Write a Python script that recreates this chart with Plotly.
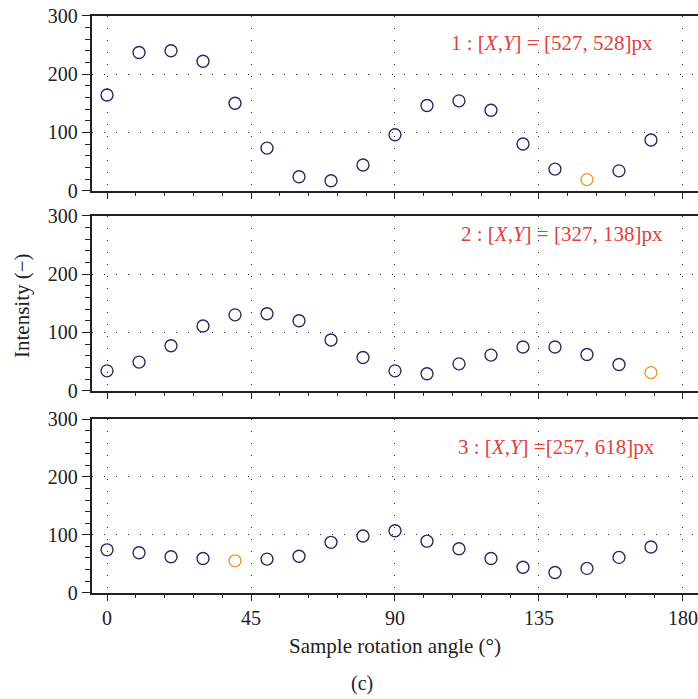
import plotly.graph_objects as go

angles = [0, 10, 20, 30, 40, 50, 60, 70, 80, 90, 100, 110, 120, 130, 140, 150, 160, 170]
intensity_1 = [164, 237, 240, 222, 150, 73, 24, 17, 44, 96, 146, 154, 138, 80, 37, 19, 34, 87]
intensity_2 = [34, 49, 77, 111, 130, 132, 120, 87, 57, 34, 29, 46, 61, 75, 75, 62, 45, 31]
intensity_3 = [74, 69, 62, 59, 55, 58, 63, 87, 98, 107, 89, 76, 59, 44, 35, 42, 61, 79]
highlight_angle = [150, 170, 40]
labels = ["1 : [<i>X</i>,<i>Y</i>] = [527, 528]px",
          "2 : [<i>X</i>,<i>Y</i>] = [327, 138]px",
          "3 : [<i>X</i>,<i>Y</i>] =[257, 618]px"]
x_ticks = [0, 45, 90, 135, 180]
y_ticks = [0, 100, 200, 300]

NAVY = "#2d2a6a"
ORANGE = "#f39325"
RED = "#e4403b"
FONT = "Liberation Serif"
W, H = 698, 699


def xp(px):
    return px / W


def yp(py):
    return 1 - py / H


series = [intensity_1, intensity_2, intensity_3]
# panel pixel bounds in the reference (top, bottom)
panels_px = [(15.7, 190.7), (215.7, 390.7), (419.0, 592.7)]
label_y_px = [43, 234, 447]
label_x_px = [655, 665, 657]

fig = go.Figure()
x_dom = [xp(91.5), 1.0]
x_range = [-4.85, 184.7]

for i, (vals, (top, bot)) in enumerate(zip(series, panels_px)):
    n = i + 1
    xa = "x" if n == 1 else f"x{n}"
    ya = "y" if n == 1 else f"y{n}"
    colors = [ORANGE if a == highlight_angle[i] else NAVY for a in angles]
    fig.add_trace(go.Scatter(
        x=angles, y=vals, mode="markers", xaxis=xa, yaxis=ya,
        marker=dict(symbol="circle-open", size=12, color=colors,
                    line=dict(width=1.4, color=colors)),
        showlegend=False, hoverinfo="x+y"))
    dom_y = [yp(bot), yp(top)]
    xkey = "xaxis" if n == 1 else f"xaxis{n}"
    ykey = "yaxis" if n == 1 else f"yaxis{n}"
    fig.update_layout(**{
        xkey: dict(domain=x_dom, range=x_range, anchor=ya, automargin=False,
                   tickvals=x_ticks,
                   showticklabels=(n == 3), ticklabeloverflow="allow",
                   ticks="outside", ticklen=7, tickwidth=1.3, tickcolor="#222",
                   minor=dict(dtick=9, tick0=0, ticks="outside", ticklen=4, tickwidth=1.2,
                              tickcolor="#222", showgrid=False),
                   showline=True, linecolor="#222", linewidth=1.5, mirror=True,
                   showgrid=True, gridcolor="#333", gridwidth=1, griddash="1px,11px",
                   zeroline=False, fixedrange=True,
                   tickfont=dict(family=FONT, size=20, color="#222")),
        ykey: dict(domain=dom_y, range=[0, 300], anchor=xa, automargin=False,
                   tickvals=y_ticks, ticklabeloverflow="allow",
                   ticks="outside", ticklen=8, tickwidth=1.3, tickcolor="#222",
                   minor=dict(dtick=20, tick0=0, ticks="outside", ticklen=5, tickwidth=1.2,
                              tickcolor="#222", showgrid=False),
                   showline=True, linecolor="#222", linewidth=1.5,
                   showgrid=True, gridcolor="#333", gridwidth=1, griddash="1px,11px",
                   zeroline=False, fixedrange=True,
                   tickfont=dict(family=FONT, size=20, color="#222")),
    })
    fig.add_annotation(x=xp(label_x_px[i]), y=yp(label_y_px[i]), xref="paper", yref="paper",
                       xanchor="right", yanchor="middle", showarrow=False,
                       text=labels[i], font=dict(family=FONT, size=21, color=RED))

fig.add_annotation(x=xp(22), y=yp(306), xref="paper", yref="paper", textangle=-90,
                   xanchor="center", yanchor="middle",
                   showarrow=False, text="Intensity (−)",
                   font=dict(family=FONT, size=21, color="#222"))
fig.add_annotation(x=xp(395), y=yp(646), xref="paper", yref="paper",
                   xanchor="center", yanchor="middle",
                   showarrow=False, text="Sample rotation angle (°)",
                   font=dict(family=FONT, size=21, color="#222"))
fig.add_annotation(x=xp(362), y=yp(683), xref="paper", yref="paper",
                   xanchor="center", yanchor="middle",
                   showarrow=False, text="(c)",
                   font=dict(family=FONT, size=20, color="#222"))

fig.update_layout(width=W, height=H, margin=dict(l=0, r=0, t=0, b=0, autoexpand=False),
                  paper_bgcolor="white", plot_bgcolor="white",
                  font=dict(family=FONT))
fig.write_html("out.html", config={"displayModeBar": False},
               post_script="document.body.style.margin='0';document.body.style.overflow='hidden';")
